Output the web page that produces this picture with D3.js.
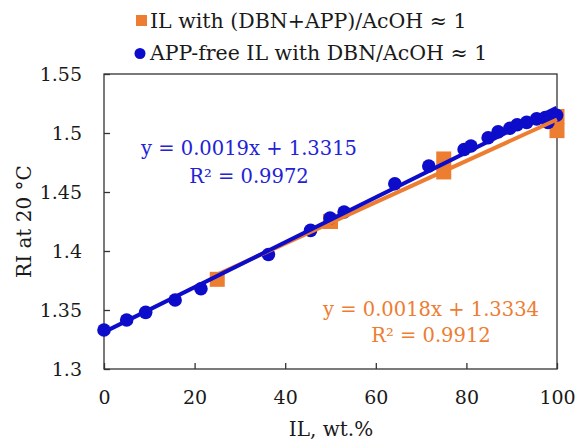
<!DOCTYPE html>
<html>
<head>
<meta charset="utf-8">
<script src="https://cdn.jsdelivr.net/npm/d3@7"></script>
<style>
  html, body { margin: 0; padding: 0; background: #fff; }
  svg text { font-family: "DejaVu Serif", "Liberation Serif", serif; }
</style>
</head>
<body>
<svg id="chart" width="578" height="442"></svg>
<script>
// Refractive index vs IL content
const appILx = [25, 50, 75, 75, 100, 100];
const appILy = [1.376, 1.425, 1.478, 1.467, 1.502, 1.514];

const freeILx = [0, 5, 9.2, 15.7, 21.4, 36.3, 45.6, 49.9, 53, 64.2, 71.7, 79.5, 81, 84.8, 87, 89.6, 91.2, 93.3, 95.5, 97.4, 98, 99.9];
const freeILy = [1.333, 1.3415, 1.348, 1.3585, 1.368, 1.397, 1.4175, 1.428, 1.433, 1.457, 1.472, 1.486, 1.489, 1.496, 1.501, 1.504, 1.507, 1.509, 1.512, 1.513, 1.509, 1.515];

const xTicks = [0, 20, 40, 60, 80, 100];
const yTicks = [1.3, 1.35, 1.4, 1.45, 1.5, 1.55];

const legendLabels = ["IL with (DBN+APP)/AcOH \u2248 1", "APP-free IL with DBN/AcOH \u2248 1"];
const eqFree = ["y = 0.0019x + 1.3315", "R\u00b2 = 0.9972"];
const eqApp = ["y = 0.0018x + 1.3334", "R\u00b2 = 0.9912"];

const ORANGE = "#ed7d31";
const BLUE = "#0c0cca";
const BLUE_TEXT = "#2222d6";
const INK = "#1a1a1a";

const svg = d3.select("#chart");
const m = { left: 104, right: 557, top: 74, bottom: 369 };

const x = d3.scaleLinear().domain([0, 100]).range([m.left, m.right]);
const y = d3.scaleLinear().domain([1.3, 1.55]).range([m.bottom, m.top]);

// least-squares trendline
function fit(xs, ys) {
  const n = xs.length;
  const mx = d3.mean(xs), my = d3.mean(ys);
  let sxy = 0, sxx = 0;
  for (let i = 0; i < n; i++) { sxy += (xs[i] - mx) * (ys[i] - my); sxx += (xs[i] - mx) ** 2; }
  const b = sxy / sxx;
  return { b, a: my - b * mx };
}

// frame
svg.append("rect")
  .attr("x", m.left).attr("y", m.top)
  .attr("width", m.right - m.left).attr("height", m.bottom - m.top)
  .attr("fill", "none").attr("stroke", "#333").attr("stroke-width", 1.3);

// axes with inward ticks
const xAxis = d3.axisBottom(x).tickValues(xTicks).tickSize(-6).tickPadding(22).tickFormat(d3.format("d"));
const gx = svg.append("g").attr("transform", `translate(0,${m.bottom})`).call(xAxis);
const yAxis = d3.axisLeft(y).tickValues(yTicks).tickSize(-6).tickPadding(22).tickFormat(d => String(+d.toFixed(2)));
const gy = svg.append("g").attr("transform", `translate(${m.left},0)`).call(yAxis);
[gx, gy].forEach(g => {
  g.select(".domain").remove();
  g.selectAll(".tick line").attr("stroke", "#333").attr("stroke-width", 1.3);
  g.selectAll(".tick text").attr("fill", INK).style("font-size", "19px");
});

// axis titles
svg.append("text")
  .attr("x", 331).attr("y", 436)
  .attr("text-anchor", "middle").style("font-size", "20px").attr("fill", INK)
  .text("IL, wt.%");
svg.append("text")
  .attr("transform", `translate(31,${(m.top + m.bottom) / 2}) rotate(-90)`)
  .attr("text-anchor", "middle").style("font-size", "20px").attr("fill", INK)
  .text("RI at 20 \u00b0C");

// markers
const appPts = appILx.map((v, i) => [v, appILy[i]]);
const freePts = freeILx.map((v, i) => [v, freeILy[i]]);
const sq = 15;
svg.append("g").selectAll("rect").data(appPts).join("rect")
  .attr("x", d => x(d[0]) - sq / 2).attr("y", d => y(d[1]) - sq / 2)
  .attr("width", sq).attr("height", sq).attr("fill", ORANGE);
svg.append("g").selectAll("circle").data(freePts).join("circle")
  .attr("cx", d => x(d[0])).attr("cy", d => y(d[1])).attr("r", 6.8).attr("fill", BLUE);

// trendlines
const fa = fit(appILx, appILy);
const ff = fit(freeILx, freeILy);
const line = d3.line().x(d => x(d[0])).y(d => y(d[1]));
const ax0 = d3.min(appILx), ax1 = d3.max(appILx);
svg.append("path")
  .attr("d", line([[ax0, fa.a + fa.b * ax0], [ax1, fa.a + fa.b * ax1]]))
  .attr("stroke", ORANGE).attr("stroke-width", 4).attr("fill", "none");
const fx0 = d3.min(freeILx), fx1 = d3.max(freeILx);
svg.append("path")
  .attr("d", line([[fx0, ff.a + ff.b * fx0], [fx1, ff.a + ff.b * fx1]]))
  .attr("stroke", BLUE).attr("stroke-width", 4).attr("fill", "none");

// trendline equations
const eqF = svg.append("text").attr("text-anchor", "middle").attr("fill", BLUE_TEXT).style("font-size", "19.5px");
eqFree.forEach((t, i) => eqF.append("tspan").attr("x", 249).attr("y", 155 + i * 27.5).text(t));
const eqA = svg.append("text").attr("text-anchor", "middle").attr("fill", ORANGE).style("font-size", "19.5px");
eqApp.forEach((t, i) => eqA.append("tspan").attr("x", 431).attr("y", 316 + i * 26).text(t));

// legend
const lg = svg.append("g");
lg.append("rect").attr("x", 136).attr("y", 15).attr("width", 11).attr("height", 11).attr("fill", ORANGE);
lg.append("circle").attr("cx", 140).attr("cy", 53.5).attr("r", 5.5).attr("fill", BLUE);
legendLabels.forEach((t, i) => {
  lg.append("text").attr("x", 150).attr("y", 28 + i * 32)
    .style("font-size", "20.5px").attr("fill", INK).text(t);
});
</script>
</body>
</html>
